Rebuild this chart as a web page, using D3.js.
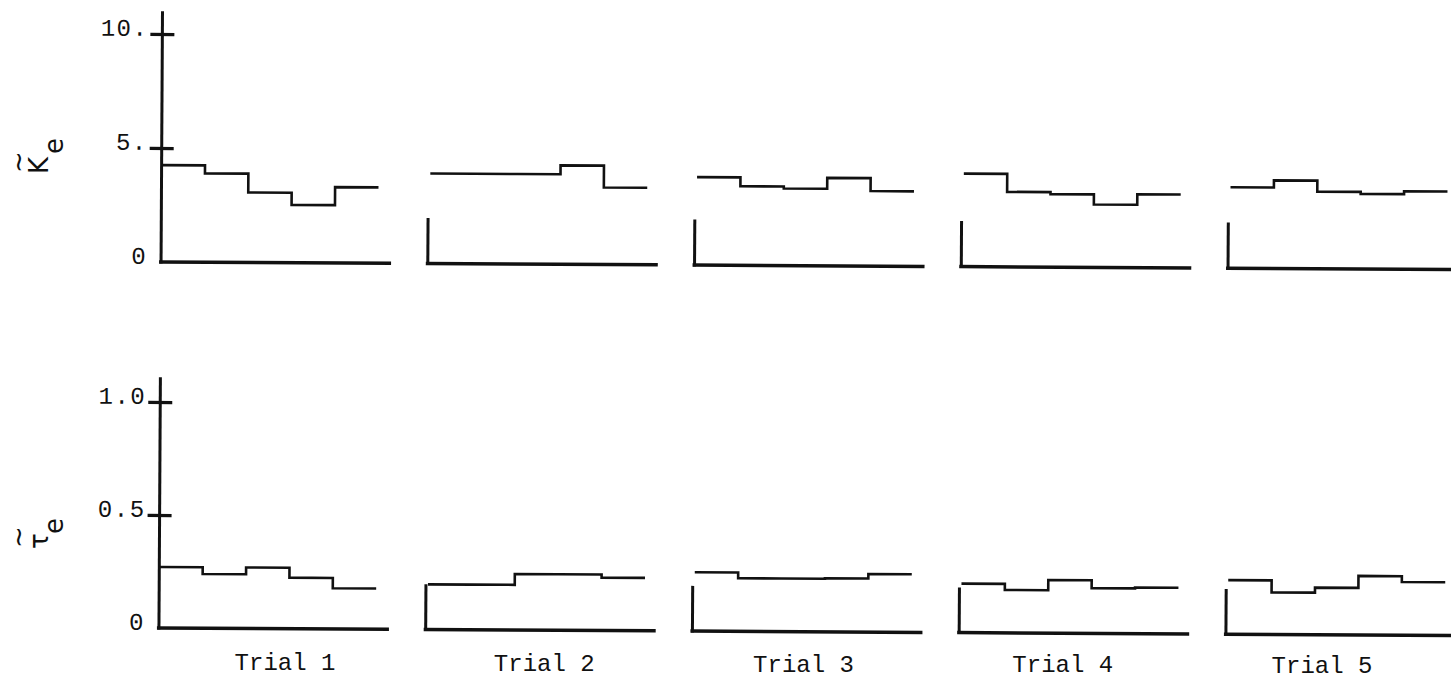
<!DOCTYPE html>
<html>
<head>
<meta charset="utf-8">
<script src="https://cdn.jsdelivr.net/npm/d3@7"></script>
<style>
  html, body { margin: 0; padding: 0; background: #fff; }
  svg { display: block; }
  .tick-label { font-family: "Liberation Mono", "DejaVu Sans Mono", monospace; font-size: 24px; fill: #111; letter-spacing: 1.5px; }
  .trial-label { font-family: "Liberation Mono", "DejaVu Sans Mono", monospace; font-size: 24px; fill: #111; }
  .ylab { font-family: "DejaVu Sans", sans-serif; font-size: 26px; fill: #111; }
</style>
</head>
<body>
<script>
// ---- data ----
const trials = ["Trial 1", "Trial 2", "Trial 3", "Trial 4", "Trial 5"];
const segments = [0, 1, 2, 3, 4];

// K~e per segment, per trial
const kE = [
  [4.25, 3.90, 3.07, 2.54, 3.33],
  [3.95, 3.95, 3.95, 4.34, 3.38],
  [3.86, 3.47, 3.38, 3.86, 3.29],
  [4.08, 3.29, 3.20, 2.76, 3.22],
  [3.55, 3.86, 3.38, 3.29, 3.42]
];
// tau~e per segment, per trial
const tauE = [
  [0.270, 0.240, 0.270, 0.226, 0.180],
  [0.200, 0.200, 0.248, 0.248, 0.234],
  [0.260, 0.235, 0.235, 0.237, 0.257],
  [0.217, 0.190, 0.235, 0.200, 0.204],
  [0.239, 0.186, 0.208, 0.261, 0.235]
];

const kTickValues = [5, 10];
const kLabelValues = [0, 5, 10];
const kLabels = ["0", "5.", "10."];
const tauTickValues = [0.5, 1.0];
const tauLabelValues = [0, 0.5, 1.0];
const tauLabels = ["0", "0.5", "1.0"];

// ---- layout ----
const W = 1451, H = 681;
const svg = d3.select("body").append("svg").attr("width", W).attr("height", H);
const root = svg.append("g").attr("transform", "rotate(0.33,160,445)");

const panelX = d3.scaleLinear().domain([0, trials.length - 1]).range([160, 1227]);
const segX = d3.scaleLinear().domain([0, 5]).range([0, 217]);
const axisLen = 230;

const rows = [
  { data: kE, y: d3.scaleLinear().domain([0, 10]).range([262, 34]),
    top: 11, stub: 2.0, ticks: kTickValues, labVals: kLabelValues, labs: kLabels },
  { data: tauE, y: d3.scaleLinear().domain([0, 1]).range([628, 402]),
    top: 1.11, stub: 0.2, ticks: tauTickValues, labVals: tauLabelValues, labs: tauLabels }
];

rows.forEach((row) => {
  const y = row.y;
  trials.forEach((t, i) => {
    const x0 = panelX(i);
    const g = root.append("g").attr("transform", `translate(${x0},0)`);
    // vertical axis
    g.append("line")
      .attr("x1", 0).attr("x2", 0)
      .attr("y1", y(0) + 1.5).attr("y2", y(i === 0 ? row.top : row.stub))
      .attr("stroke", "#111").attr("stroke-width", 3);
    // horizontal axis
    g.append("line")
      .attr("x1", -2).attr("x2", axisLen)
      .attr("y1", y(0)).attr("y2", y(0))
      .attr("stroke", "#111").attr("stroke-width", 3.5);
    // step series
    const pts = segments.map(j => [j, row.data[i][j]]);
    pts.push([5, row.data[i][4]]);
    const line = d3.line()
      .x(d => segX(d[0]) + (i === 0 ? 0 : 2))
      .y(d => y(d[1]))
      .curve(d3.curveStepAfter);
    g.append("path")
      .attr("d", line(pts))
      .attr("fill", "none").attr("stroke", "#111").attr("stroke-width", 2.6)
      .attr("stroke-linejoin", "miter");

    if (i === 0) {
      // ticks crossing the axis, using d3 axis
      const ax = g.append("g").call(
        d3.axisLeft(y).tickValues(row.ticks).tickSize(12).tickFormat(""));
      ax.select(".domain").remove();
      ax.selectAll(".tick line").attr("x1", 12).attr("x2", -12)
        .attr("stroke", "#111").attr("stroke-width", 3.2);
      // labels
      g.selectAll("text.tick-label").data(row.labVals).enter().append("text")
        .attr("class", "tick-label")
        .attr("text-anchor", "end")
        .attr("x", -14)
        .attr("y", d => y(d) + 2)
        .text((d, k) => row.labs[k]);
    }
  });
});

// Trial labels
const labelX = d3.scaleLinear().domain([0, trials.length - 1]).range([285, 1322]);
svg.selectAll("text.trial-label").data(trials).enter().append("text")
  .attr("class", "trial-label")
  .attr("text-anchor", "middle")
  .attr("x", (d, i) => labelX(i))
  .attr("y", (d, i) => 670 + i * 0.8)
  .text(d => d);

// Y labels (rotated): K~e and tau~e
function yLabel(tx, ty, main, mainW) {
  const g = svg.append("g").attr("transform", `translate(${tx},${ty}) rotate(-90)`);
  g.append("text").attr("class", "ylab").attr("x", 0).attr("y", 0).text(main);
  g.append("text").attr("class", "ylab").attr("x", 1).attr("y", -21).text("~");
  g.append("text").attr("class", "ylab").attr("x", mainW).attr("y", 15).text("e");
}
yLabel(48, 174, "K", 20);
yLabel(48, 549, "τ", 15);
</script>
</body>
</html>
